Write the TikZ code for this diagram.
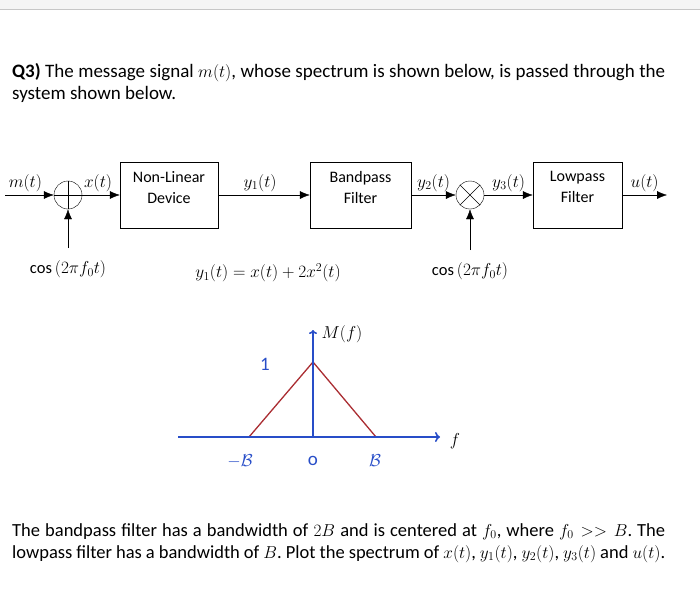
\documentclass[tikz,border=0pt]{standalone}
\usepackage{amsmath}
\usepackage{fontspec}
\setmainfont{Carlito}
\usetikzlibrary{
        arrows.meta,
        positioning,
        shapes
    }
\definecolor{penblue}{RGB}{40,78,200}
\definecolor{penred}{RGB}{170,45,50}
\definecolor{topgray}{RGB}{245,245,245}
\tikzset{>={Latex[length=10pt,width=8pt]},line width=1.1pt}
\tikzset{block/.style={draw,rectangle,minimum width=98pt,minimum height=66pt,
        text depth=16pt,align=center,font=\fontsize{16}{21}\selectfont}}
\tikzset{sumnode/.style={draw,circle,minimum size=28pt,inner sep=0pt}}
\tikzset{para/.style={anchor=north west,inner sep=0pt,text width=653pt,
        align=justify,font=\fontsize{19}{22}\selectfont\frenchspacing}}
\tikzset{sig/.style={font=\fontsize{16.5}{18}\selectfont}}
\tikzset{hand/.style={text=penblue,font=\fontsize{19}{20}\selectfont}}

\begin{document}
\begin{tikzpicture}[x=1pt,y=-1pt]
                \useasboundingbox (0,0) rectangle (700,590);
                \fill[topgray] (0,0) rectangle (700,9);
                \draw[black!22,line width=1pt] (0,9.5) -- (700,9.5);
                % question
                \node[para] (qtop) at (12,63)
                    {\textbf{Q3)} The message signal $m(t)$, whose spectrum is shown below, is passed through the system shown below.};
                % block diagram
                \coordinate (in) at (5,195);
                \node[sumnode] (add) at (68,195) {};
                \node[block] (nld) at (169,195) {Non-Linear\\Device};
                \node[block,minimum width=101pt] (bpf) at (360.5,195) {Bandpass\\Filter};
                \node[sumnode] (mul) at (470,195) {};
                \node[block,minimum width=89pt] (lpf) at (577.5,195) {Lowpass\\Filter};
                \coordinate (out) at (667,195);
                \coordinate (osc1) at (68,248);
                \coordinate (osc2) at (470,250);
                \draw (add.north) -- (add.south) (add.west) -- (add.east);
                \draw (mul.north west) -- (mul.south east) (mul.north east) -- (mul.south west);
                \path[->,sig]
                    (in)   edge node [above,xshift=-4pt] {$m(t)$} (add)
                    (add)  edge node [above,xshift=-3pt] {$x(t)$} (nld)
                    (nld)  edge node [above,xshift=-4pt] {$y_1(t)$} (bpf)
                    (bpf)  edge node [above] {$y_2(t)$} (mul)
                    (mul)  edge node [above] {$y_3(t)$} (lpf)
                    (lpf)  edge node [above] {$u(t)$} (out)
                    (osc1) edge (add)
                    (osc2) edge (mul);
                \node[sig] (cos1) [below=9pt of osc1] {$\cos{(2\pi f_0 t)}$};
                \node[sig] (cos2) [below=9pt of osc2] {$\cos{(2\pi f_0 t)}$};
                \node[sig] (nleq) at (268,273) {$y_1(t)=x(t)+2x^2(t)$};
                % spectrum of m(t)
                \coordinate (f0) at (313,437);
                \coordinate (fl) at (178,437);
                \coordinate (fr) at (440,437);
                \coordinate (ftop) at (313,330);
                \coordinate (pk) at (313,362);
                \coordinate (bl) at (249,437);
                \coordinate (br) at (376,437);
                \draw[penred,line width=1.3pt] (bl) -- (pk) -- (br);
                \draw[penblue,line width=1.6pt,-{To[length=5pt,width=10pt]}] (fl) -- (fr);
                \draw[penblue,line width=1.6pt,-{To[length=4pt,width=8pt]}] (f0) -- (ftop);
                \node[sig] (mf) at (342,334) {$M(f)$};
                \node[sig] (fax) at (455,441) {$f$};
                \node[hand] (one) at (265,364) {1};
                \node[hand] (mb) at (240,461) {$-\mathcal{B}$};
                \node[hand] (zero) at (313,461) {o};
                \node[hand] (pb) at (375,461) {$\mathcal{B}$};
                % problem text
                \node[para,font=\fontsize{18.5}{22}\selectfont\frenchspacing] (qbot) at (12,523)
                    {The bandpass filter has a bandwidth of $2B$ and is centered at $f_0$, where $f_0 >> B$. The lowpass filter has a bandwidth of $B$. Plot the spectrum of $x(t)$, $y_1(t)$, $y_2(t)$, $y_3(t)$ and $u(t)$.};
            \end{tikzpicture}
\end{document}
